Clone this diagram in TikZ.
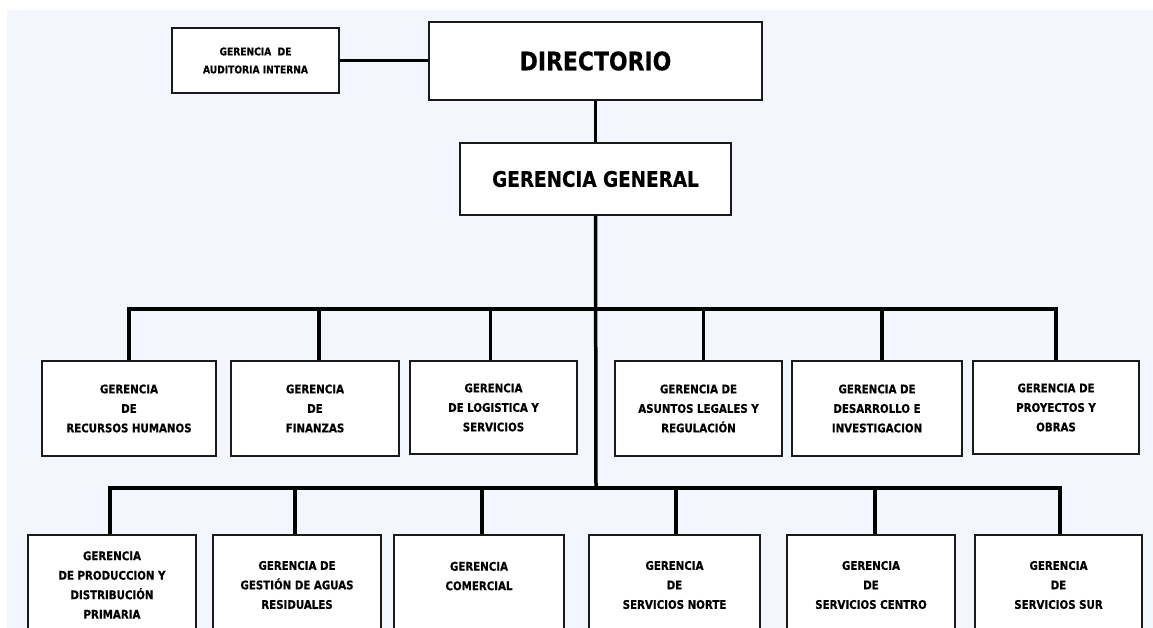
\documentclass[tikz,border=0pt]{standalone}
\usepackage{fontspec}
\newfontfamily\orgfont[FakeStretch=0.86,BoldFeatures={FakeBold=0.5}]{DejaVu Sans}
\usetikzlibrary{positioning}
\definecolor{fondo}{HTML}{F3F7FD}
\definecolor{borde}{HTML}{1A1A1A}

\begin{document}
\begin{tikzpicture}[x=1pt,y=-1pt,
	caja/.style={draw=borde,line width=1.6pt,fill=white,inner sep=0pt,align=center,
		font=\orgfont\bfseries\fontsize{11.9}{19.5}\selectfont},
	enlace/.style={draw=black,line width=3.5pt}]
		\useasboundingbox (0,0) rectangle (1153,628);
		\clip (0,0) rectangle (1153,628);
		\fill[fondo] (7,10) rectangle (1153,628);
		
		% cabecera
		\node[caja,minimum width=333,minimum height=78,font=\orgfont\bfseries\fontsize{25.5}{30}\selectfont] (dir) at (595.5,61) {DIRECTORIO};
		\node[caja,minimum width=167,minimum height=65,font=\orgfont\bfseries\fontsize{10.6}{18}\selectfont] (aud) at (255.5,60.5) {GERENCIA\ \ DE\\AUDITORIA INTERNA};
		\node[caja,minimum width=271,minimum height=72,font=\orgfont\bfseries\fontsize{21.4}{26}\selectfont] (gg) at (595.5,179) {GERENCIA GENERAL};
		\draw[enlace] (aud.east)--(aud.east -| dir.west);
		\draw[enlace] (dir.south)--(gg.north);
		
		\coordinate (busa) at (596,309);
		\coordinate (busb) at (596,488);
		\draw[enlace] (gg.south)--(busb);
		
		% primera fila
		\node[caja,minimum width=174,minimum height=95] (rrhh) at (129,408.5) {GERENCIA\\DE\\RECURSOS HUMANOS};
		\node[caja,minimum width=168,minimum height=95] (fin) at (315,408.5) {GERENCIA\\DE\\FINANZAS};
		\node[caja,minimum width=167,minimum height=93] (logis) at (493.5,407.5) {GERENCIA\\DE LOGISTICA Y\\SERVICIOS};
		\node[caja,minimum width=167,minimum height=95] (legal) at (698.5,408.5) {GERENCIA DE\\ASUNTOS LEGALES Y\\REGULACIÓN};
		\node[caja,minimum width=170,minimum height=95] (desa) at (877,408.5) {GERENCIA DE\\DESARROLLO E\\INVESTIGACION};
		\node[caja,minimum width=166,minimum height=93] (proy) at (1056,407.5) {GERENCIA DE\\PROYECTOS Y\\OBRAS};
		
		\draw[enlace] (rrhh.north) |- (busa);
		\draw[enlace] ([xshift=4pt]fin.north) |- (busa);
		\draw[enlace] ([xshift=-3pt]logis.north) |- (busa);
		\draw[enlace] ([xshift=5pt]legal.north) |- (busa);
		\draw[enlace] ([xshift=5pt]desa.north) |- (busa);
		\draw[enlace] (proy.north) |- (busa);
		
		% segunda fila
		\node[caja,minimum width=168,minimum height=100] (prod) at (112,585) {GERENCIA\\DE PRODUCCION Y\\DISTRIBUCIÓN\\PRIMARIA};
		\node[caja,minimum width=168,minimum height=100] (aguas) at (297,585) {GERENCIA DE\\GESTIÓN DE AGUAS\\RESIDUALES};
		\node[caja,minimum width=170,minimum height=100,text depth=18pt] (comer) at (479,585) {GERENCIA\\COMERCIAL};
		\node[caja,minimum width=171,minimum height=100] (norte) at (674.5,585) {GERENCIA\\DE\\SERVICIOS NORTE};
		\node[caja,minimum width=168,minimum height=100] (centro) at (871,585) {GERENCIA\\DE\\SERVICIOS CENTRO};
		\node[caja,minimum width=167,minimum height=100] (sur) at (1058.5,585) {GERENCIA\\DE\\SERVICIOS SUR};
		
		\draw[enlace] ([xshift=-2pt]prod.north) |- (busb);
		\draw[enlace] ([xshift=-2pt]aguas.north) |- (busb);
		\draw[enlace] ([xshift=3pt]comer.north) |- (busb);
		\draw[enlace] ([xshift=1.5pt]norte.north) |- (busb);
		\draw[enlace] ([xshift=4pt]centro.north) |- (busb);
		\draw[enlace] ([xshift=1.5pt]sur.north) |- (busb);
	\end{tikzpicture}
\end{document}
